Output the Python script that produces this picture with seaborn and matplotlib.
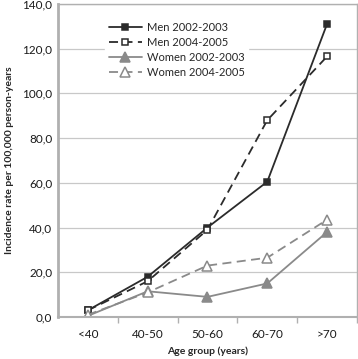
import matplotlib
matplotlib.use("Agg")
import matplotlib.pyplot as plt
import seaborn as sns
import pandas as pd
from matplotlib.ticker import MultipleLocator, FuncFormatter

age_groups = ["<40", "40-50", "50-60", "60-70", ">70"]
men_0203 = [3.0, 18.0, 40.0, 60.5, 131.0]
men_0405 = [3.0, 16.0, 39.0, 88.0, 116.5]
women_0203 = [0.5, 11.5, 9.0, 15.0, 38.0]
women_0405 = [1.0, 11.0, 23.0, 26.5, 43.5]
series_names = ["Men 2002-2003", "Men 2004-2005", "Women 2002-2003", "Women 2004-2005"]

sns.set_style("white")
plt.rcParams['font.family'] = ['Lato', 'DejaVu Sans']

fig = plt.figure(figsize=(3.58, 3.59), dpi=100)
ax = fig.add_axes([0.162, 0.117, 0.835, 0.872])

styles = [
    dict(color='#2b2b2b', marker='s', markersize=4, markerfacecolor='#2b2b2b', markeredgecolor='#2b2b2b', linestyle='-'),
    dict(color='#2b2b2b', marker='s', markersize=5, markerfacecolor='white', markeredgecolor='#2b2b2b', linestyle=(0, (5, 3))),
    dict(color='#8a8a8a', marker='^', markersize=7, markerfacecolor='#8a8a8a', markeredgecolor='#8a8a8a', linestyle='-'),
    dict(color='#8a8a8a', marker='^', markersize=7, markerfacecolor='white', markeredgecolor='#8a8a8a', linestyle=(0, (5, 3))),
]
values = [men_0203, men_0405, women_0203, women_0405]

for name, vals, st in zip(series_names, values, styles):
    df = pd.DataFrame({"age": age_groups, "rate": vals})
    sns.lineplot(data=df, x="age", y="rate", ax=ax, label=name, linewidth=1.3,
                 markeredgewidth=1.1, sort=False, **st)

ax.set_xlim(-0.5, 4.5)
ax.set_ylim(0, 140)
ax.yaxis.set_major_locator(MultipleLocator(20))
ax.yaxis.set_major_formatter(FuncFormatter(lambda v, p: f"{v:.1f}".replace('.', ',')))
ax.grid(axis='y', color='#c8c8c8', linewidth=0.9)
ax.set_axisbelow(True)

# tick marks between categories
ax.set_xticks(range(len(age_groups)))
ax.set_xticklabels(age_groups)
ax.set_xticks([i + 0.5 for i in range(len(age_groups))], minor=True)
ax.tick_params(axis='x', which='major', length=0, labelsize=8.5, pad=9, colors='#1a1a1a')
ax.tick_params(axis='x', which='minor', length=4, width=1, color='#b0b0b0', bottom=True)
ax.tick_params(axis='y', length=0, labelsize=8.5, pad=4, colors='#1a1a1a')

for side in ['left', 'bottom', 'top', 'right']:
    ax.spines[side].set_visible(True)
    ax.spines[side].set_color('#b0b0b0')
ax.spines['left'].set_linewidth(2)
ax.spines['bottom'].set_linewidth(1.5)
ax.spines['top'].set_linewidth(1)
ax.spines['right'].set_linewidth(1)

ax.set_xlabel("Age group (years)", fontsize=7.5, fontweight='bold', labelpad=4)
ax.set_ylabel("Incidence rate per 100,000 person-years", fontsize=7.5, fontweight='bold', labelpad=6)

leg = ax.legend(loc='upper left', bbox_to_anchor=(0.14, 0.97), frameon=True, fontsize=8,
                handlelength=3, handletextpad=0.4, labelspacing=0.35, borderpad=0.3)
leg.get_frame().set_edgecolor('white')
leg.get_frame().set_facecolor('white')
leg.get_frame().set_alpha(1)

fig.savefig("out.png", dpi=100)
